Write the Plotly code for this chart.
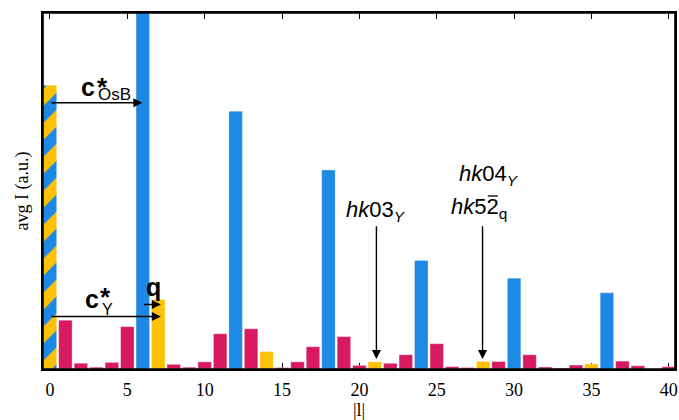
import plotly.graph_objects as go

# Averaged intensity along each (0 0 l) position
l_index = list(range(41))
intensity = [79.7, 13.7, 1.6, 0.5, 1.85, 11.9, 140.0, 19.5, 1.3, 0.5,
             2.0, 9.9, 72.4, 11.3, 4.9, 0.4, 2.0, 6.25, 55.9, 9.1,
             1.0, 2.0, 1.6, 4.0, 30.5, 7.1, 0.65, 0.4, 2.1, 2.1,
             25.5, 4.0, 0.55, 0.2, 1.1, 1.4, 21.4, 2.2, 0.9, 0.0,
             0.65]

# Positions belonging to the OsB and Y periodicities
osb_peaks = [0, 6, 12, 18, 24, 30, 36]
y_peaks = [0, 7, 14, 21, 28, 35]

x_ticks = [0, 5, 10, 15, 20, 25, 30, 35, 40]

BLUE = "#1E88E5"
PINK = "#D81B60"
GOLD = "#FFC107"
SERIF = "Liberation Serif"
SANS = "Liberation Sans"
BAR_W = 0.87


def pick(cond):
    xs, ys = [], []
    for l, v in zip(l_index, intensity):
        if cond(l):
            xs.append(l)
            ys.append(v)
    return xs, ys


groups = [
    (lambda l: l not in osb_peaks and l not in y_peaks, dict(color=PINK)),
    (lambda l: l in osb_peaks and l not in y_peaks, dict(color=BLUE)),
    (lambda l: l in y_peaks and l not in osb_peaks, dict(color=GOLD)),
    (lambda l: l in osb_peaks and l in y_peaks,
     dict(color=GOLD, pattern=dict(shape="/", fgcolor=BLUE, bgcolor=GOLD,
                                   size=24, solidity=0.5, fillmode="replace"))),
]

fig = go.Figure()
for cond, mk in groups:
    xs, ys = pick(cond)
    fig.add_trace(go.Bar(
        x=xs, y=ys, width=BAR_W,
        marker=dict(**mk, line=dict(color="rgba(255,255,255,0.5)", width=0.6)),
        hoverinfo="x+y",
    ))

anns = []


def arrow(x0, x1, y, y1=None):
    anns.append(dict(x=x1, y=(y if y1 is None else y1), ax=x0, ay=y,
                     xref="x", yref="y", axref="x", ayref="y",
                     text="", showarrow=True, arrowhead=2, arrowsize=1.3,
                     arrowwidth=1.4, arrowcolor="black", standoff=0,
                     startstandoff=0))


def label(x, y, text, size, family=SANS):
    anns.append(dict(x=x, y=y, xref="x", yref="y", text=text,
                     showarrow=False, xanchor="center", yanchor="middle",
                     font=dict(family=family, size=size, color="black")))


# c*_OsB
arrow(0, 5.98, 74.8)
label(2.48, 79.2, "<b>c</b>", 25)
label(3.42, 79.3, "<b>*</b>", 26)
label(4.14, 77.1, "OsB", 17)

# c*_Y and q
arrow(0, 7.17, 14.75)
arrow(5.99, 7.17, 18.1)
label(2.74, 19.6, "<b>c</b>", 25)
label(3.6, 20.1, "<b>*</b>", 26)
label(3.72, 16.8, "Y", 16)
label(6.68, 23.1, "<b>q</b>", 25)

# hk03_Y
arrow(21.1, 21.1, 40.5, 2.8)
label(21.1, 44.5, "<i>hk</i>03<sub><i>Y</i></sub>", 22)

# hk04_Y / hk5(2-bar)_q
arrow(27.96, 27.96, 40.5, 2.8)
label(28.35, 54.6, "<i>hk</i>04<sub><i>Y</i></sub>", 22)
label(27.75, 45.3, "<i>hk</i>52<sub>q</sub>", 22)

fig.update_layout(
    width=679, height=420,
    margin=dict(l=43, r=2, t=13, b=51),
    plot_bgcolor="white", paper_bgcolor="white",
    showlegend=False, barmode="overlay",
    annotations=anns,
    shapes=[
        dict(type="rect", xref="paper", yref="paper", x0=0, x1=1,
             y0=0, y1=1, line=dict(color="black", width=1.6), layer="above"),
        # bar over the 2 in hk52
        dict(type="line", xref="x", yref="y", x0=28.3, x1=28.95,
             y0=48.6, y1=48.6, line=dict(color="black", width=1.3)),
    ],
)
fig.update_xaxes(
    range=[-0.45, 40.4], tickvals=x_ticks, ticks="inside", ticklen=6,
    tickwidth=1, tickcolor="black", mirror="allticks", showline=True,
    linecolor="black", linewidth=1.6, showgrid=False, zeroline=False,
    layer="below traces", ticklabelstandoff=4,
    tickfont=dict(family=SERIF, size=18, color="black"),
    title=dict(text="|l|", font=dict(family=SERIF, size=18, color="#000000"),
               standoff=3),
)
fig.update_yaxes(
    range=[0, 100], showticklabels=False, ticks="", showgrid=False,
    zeroline=False, showline=True, mirror=True, linecolor="black",
    linewidth=1.6, layer="below traces",
    title=dict(text="avg I (a.u.)", font=dict(family=SERIF, size=18,
                                              color="#000000"), standoff=8),
)

fig.write_html("out.html")
